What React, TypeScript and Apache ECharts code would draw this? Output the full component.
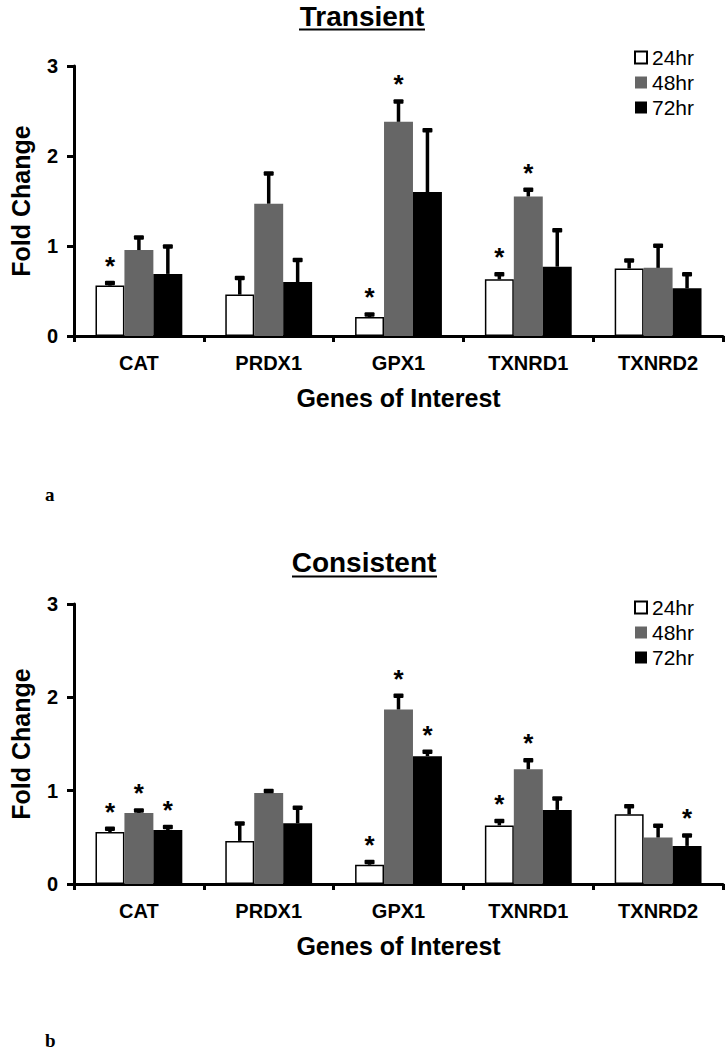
import React, { useEffect, useRef } from "react";
import * as echarts from "echarts";

const genes = ["CAT", "PRDX1", "GPX1", "TXNRD1", "TXNRD2"];
const times = ["24hr", "48hr", "72hr"];
const yTicks = [0, 1, 2, 3];

// Transient (a)
const transient24 = [0.56, 0.46, 0.21, 0.63, 0.75];
const transient48 = [0.955, 1.47, 2.38, 1.55, 0.757];
const transient72 = [0.69, 0.6, 1.6, 0.77, 0.53];
const transient24Err = [0.055, 0.21, 0.055, 0.08, 0.115];
const transient48Err = [0.165, 0.36, 0.25, 0.1, 0.27];
const transient72Err = [0.33, 0.27, 0.71, 0.43, 0.18];
const transient24Star = [1, 0, 1, 1, 0];
const transient48Star = [0, 0, 1, 1, 0];
const transient72Star = [0, 0, 0, 0, 0];

// Consistent (b)
const consistent24 = [0.556, 0.462, 0.206, 0.628, 0.747];
const consistent48 = [0.762, 0.975, 1.87, 1.23, 0.498];
const consistent72 = [0.578, 0.65, 1.37, 0.794, 0.408];
const consistent24Err = [0.06, 0.21, 0.055, 0.07, 0.11];
const consistent48Err = [0.05, 0.045, 0.17, 0.12, 0.15];
const consistent72Err = [0.057, 0.19, 0.07, 0.145, 0.137];
const consistent24Star = [1, 0, 1, 1, 0];
const consistent48Star = [1, 0, 1, 1, 0];
const consistent72Star = [1, 0, 1, 0, 1];

const SANS = "Arial, 'Liberation Sans', sans-serif";
const BAR_FRAC = 0.223;

const barColors = ["#ffffff", "#666666", "#000000"];

function buildChart(
  k: number,
  means: number[][],
  errs: number[][],
  stars: number[][]
) {
  const bars = means.map((vals, j) => ({
    type: "bar",
    name: times[j],
    xAxisIndex: k,
    yAxisIndex: k,
    data: vals,
    barWidth: BAR_FRAC * 100 + "%",
    barGap: "0%",
    itemStyle: {
      color: barColors[j],
      borderColor: j === 0 ? "#000" : barColors[j],
      borderWidth: j === 0 ? 1.5 : 0,
    },
  }));
  const errData: number[][] = [];
  means.forEach((vals, j) => {
    vals.forEach((v, i) => {
      errData.push([i, j, v, errs[j][i], stars[j][i]]);
    });
  });
  const errSeries = {
    type: "custom",
    xAxisIndex: k,
    yAxisIndex: k,
    data: errData,
    encode: { x: 0, y: 2 },
    z: 5,
    renderItem: (params: any, api: any) => {
      const cat = api.value(0);
      const j = api.value(1);
      const v = api.value(2);
      const e = api.value(3);
      const s = api.value(4);
      const bw = api.size([1, 0])[0] * BAR_FRAC;
      const base = api.coord([cat, v]);
      const x = base[0] + (j - 1) * bw;
      const yTop = api.coord([cat, v + e])[1];
      const children: any[] = [
        {
          type: "line",
          shape: { x1: x, y1: base[1], x2: x, y2: yTop + 2 },
          style: { stroke: "#000", lineWidth: 3.5 },
        },
        {
          type: "rect",
          shape: { x: x - 5, y: yTop, width: 10, height: 4.5, r: 1 },
          style: { fill: "#000" },
        },
      ];
      if (s) {
        children.push({
          type: "text",
          x: x,
          y: yTop - 15,
          style: {
            text: "*",
            fill: "#000",
            font: `bold 26px ${SANS}`,
            align: "center",
            verticalAlign: "middle",
          },
        });
      }
      return { type: "group", children };
    },
  };
  return { bars, errSeries };
}

export default function App() {
  const ref = useRef<HTMLDivElement>(null);
  useEffect(() => {
    if (!ref.current) return;
    const chart = echarts.init(ref.current, undefined, { renderer: "svg" });
    const a = buildChart(
      0,
      [transient24, transient48, transient72],
      [transient24Err, transient48Err, transient72Err],
      [transient24Star, transient48Star, transient72Star]
    );
    const b = buildChart(
      1,
      [consistent24, consistent48, consistent72],
      [consistent24Err, consistent48Err, consistent72Err],
      [consistent24Star, consistent48Star, consistent72Star]
    );
    const xAxis = (idx: number) => ({
      type: "category",
      gridIndex: idx,
      data: genes,
      axisLine: { lineStyle: { color: "#000", width: 3 } },
      axisTick: { show: true, length: 6, lineStyle: { color: "#000", width: 3 } },
      axisLabel: {
        color: "#000",
        fontFamily: SANS,
        fontWeight: "bold",
        fontSize: 20,
        margin: 17,
      },
      name: "Genes of Interest",
      nameLocation: "middle",
      nameGap: 49,
      nameTextStyle: {
        color: "#000",
        fontFamily: SANS,
        fontWeight: "bold",
        fontSize: 25,
      },
    });
    const yAxis = (idx: number) => ({
      type: "value",
      gridIndex: idx,
      min: yTicks[0],
      max: yTicks[yTicks.length - 1],
      interval: 1,
      splitLine: { show: false },
      axisLine: { show: true, lineStyle: { color: "#000", width: 3 } },
      axisTick: { show: true, length: 7, lineStyle: { color: "#000", width: 3 } },
      axisLabel: {
        color: "#000",
        fontFamily: SANS,
        fontWeight: "bold",
        fontSize: 20,
        margin: 16,
      },
      name: "Fold Change",
      nameLocation: "middle",
      nameRotate: 90,
      nameGap: 41,
      nameTextStyle: {
        color: "#000",
        fontFamily: SANS,
        fontWeight: "bold",
        fontSize: 25,
      },
    });
    const legend = (top: number) => ({
      data: times,
      orient: "vertical",
      left: 629,
      top,
      itemWidth: 12,
      itemHeight: 12,
      itemGap: 4,
      itemTextGap: 5,
      icon: "rect",
      textStyle: {
        color: "#000",
        fontFamily: SANS,
        fontSize: 21,
        lineHeight: 21,
      },
    });
    const option: any = {
      animation: false,
      backgroundColor: "#fff",
      grid: [
        { left: 65, right: 4, top: 66, height: 270 },
        { left: 65, right: 4, top: 604, height: 280 },
      ],
      xAxis: [xAxis(0), xAxis(1)],
      yAxis: [yAxis(0), yAxis(1)],
      legend: [legend(42), legend(592)],
      series: [...a.bars, a.errSeries, ...b.bars, b.errSeries],
      graphic: [
        {
          type: "text",
          x: 362,
          y: 16.5,
          style: {
            text: "Transient",
            fill: "#000",
            font: `bold 28px ${SANS}`,
            align: "center",
            verticalAlign: "middle",
          },
        },
        {
          type: "line",
          shape: { x1: 299, y1: 29.5, x2: 425, y2: 29.5 },
          style: { stroke: "#000", lineWidth: 2 },
        },
        {
          type: "text",
          x: 364,
          y: 562.5,
          style: {
            text: "Consistent",
            fill: "#000",
            font: `bold 28px ${SANS}`,
            align: "center",
            verticalAlign: "middle",
          },
        },
        {
          type: "line",
          shape: { x1: 292, y1: 576.5, x2: 437, y2: 576.5 },
          style: { stroke: "#000", lineWidth: 2 },
        },
        {
          type: "text",
          x: 45,
          y: 494,
          style: {
            text: "a",
            fill: "#000",
            font: "bold 19px 'Liberation Serif', 'Times New Roman', serif",
            verticalAlign: "middle",
          },
        },
        {
          type: "text",
          x: 45,
          y: 1040,
          style: {
            text: "b",
            fill: "#000",
            font: "bold 19px 'Liberation Serif', 'Times New Roman', serif",
            verticalAlign: "middle",
          },
        },
      ],
    };
    chart.setOption(option);
    return () => chart.dispose();
  }, []);
  return (
    <div
      ref={ref}
      style={{ position: "absolute", left: 0, top: 0, width: 727, height: 1050 }}
    />
  );
}
